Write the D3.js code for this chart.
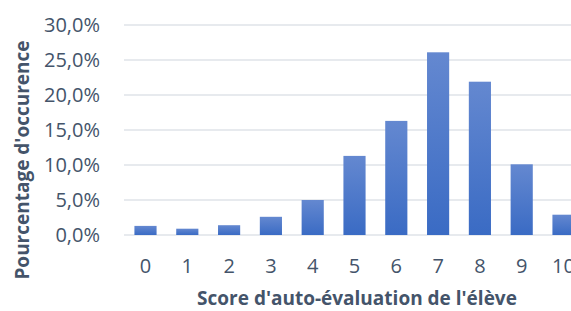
<!DOCTYPE html>
<html><head><meta charset="utf-8">
<script src="https://cdn.jsdelivr.net/npm/d3@7"></script>
<style>body{margin:0;background:#fff;overflow:hidden}</style>
</head><body>
<svg id="c" width="571" height="311"></svg>
<script>
const categories = ["0","1","2","3","4","5","6","7","8","9","10"];
const values = [1.3, 0.9, 1.4, 2.6, 5.0, 11.3, 16.3, 26.1, 21.9, 10.1, 2.9];
const yTicks = [0, 5, 10, 15, 20, 25, 30];
const xTitle = "Score d'auto-évaluation de l'élève";
const yTitle = "Pourcentage d'occurence";

const svg = d3.select("#c");
const font = "'Open Sans', sans-serif";
const textColor = "#44546A";

const y = d3.scaleLinear().domain([0, 30]).range([235, 25]);
const x = d3.scaleBand().domain(categories).range([124.6, 584.4]).paddingInner(0.47).paddingOuter(0.235);

const defs = svg.append("defs");
const grad = defs.append("linearGradient").attr("id","g").attr("x1",0).attr("y1",0).attr("x2",0).attr("y2",1);
grad.append("stop").attr("offset","0%").attr("stop-color","#6488d0");
grad.append("stop").attr("offset","100%").attr("stop-color","#3a6bc4");

// gridlines
svg.append("g").selectAll("line").data(yTicks).join("line")
  .attr("x1", 124).attr("x2", 571)
  .attr("y1", d => y(d)).attr("y2", d => y(d))
  .attr("stroke", "#dfe3e8").attr("stroke-width", 1.5);

// y labels
const fmt = d => d.toFixed(1).replace(".", ",") + "%";
svg.append("g").selectAll("text").data(yTicks).join("text")
  .attr("x", 100).attr("y", d => y(d)).attr("dy", "0.35em")
  .attr("text-anchor", "end").attr("font-family", font).attr("font-size", 20)
  .attr("fill", textColor).text(fmt);

// bars
svg.append("g").selectAll("rect").data(values).join("rect")
  .attr("x", (d,i) => x(categories[i]))
  .attr("width", x.bandwidth())
  .attr("y", d => y(d))
  .attr("height", d => y(0) - y(d))
  .attr("fill", "url(#g)");

// x labels
svg.append("g").selectAll("text").data(categories).join("text")
  .attr("x", d => x(d) + x.bandwidth()/2).attr("y", 273)
  .attr("text-anchor", "middle").attr("font-family", font).attr("font-size", 20)
  .attr("fill", textColor).text(d => d);

// titles
svg.append("text").attr("x", 357).attr("y", 305)
  .attr("text-anchor", "middle").attr("font-family", font).attr("font-size", 19)
  .attr("font-weight", "bold").attr("fill", textColor).text(xTitle);

svg.append("text").attr("transform", "translate(29,160) rotate(-90)")
  .attr("text-anchor", "middle").attr("font-family", font).attr("font-size", 19)
  .attr("font-weight", "bold").attr("fill", textColor).text(yTitle);
</script>
</body></html>
